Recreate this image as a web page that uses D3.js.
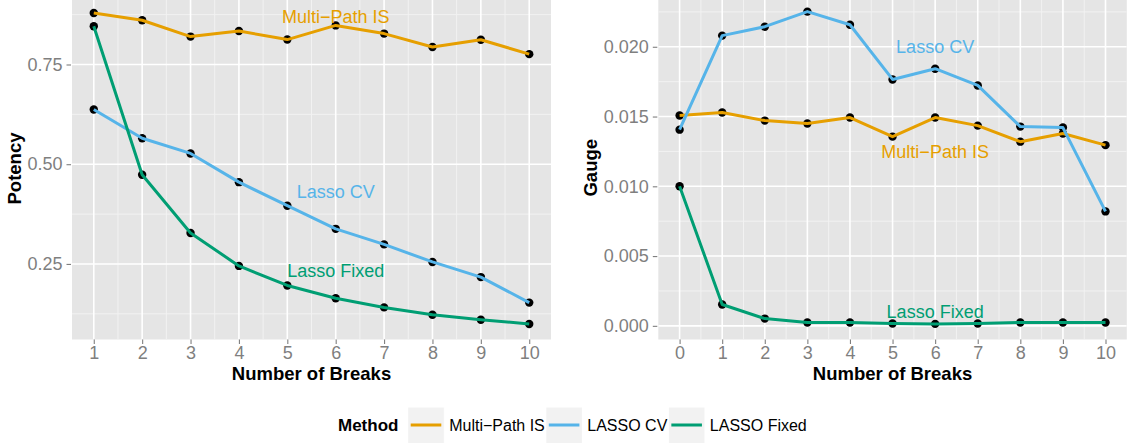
<!DOCTYPE html>
<html>
<head>
<meta charset="utf-8">
<script src="https://cdn.jsdelivr.net/npm/d3@7"></script>
<style>
  html, body { margin: 0; padding: 0; background: #ffffff; }
  svg { display: block; font-family: "Liberation Sans", Arial, Helvetica, sans-serif; }
</style>
</head>
<body>
<svg id="chart" width="1129" height="443"></svg>
<script>
// ---- data ----
const methods = ["Multi\u2212Path IS", "LASSO CV", "LASSO Fixed"];
const methodColors = ["#E69F00", "#56B4E9", "#009E73"];

const potencyBreaks = [1, 2, 3, 4, 5, 6, 7, 8, 9, 10];
const potencyMulti = [0.879, 0.861, 0.820, 0.834, 0.8125, 0.848, 0.8275, 0.794, 0.812, 0.776];
const potencyCV    = [0.637, 0.565, 0.527, 0.455, 0.396, 0.338, 0.299, 0.255, 0.217, 0.153];
const potencyFixed = [0.846, 0.4735, 0.3275, 0.245, 0.196, 0.164, 0.141, 0.1225, 0.110, 0.0995];

const gaugeBreaks = [0, 1, 2, 3, 4, 5, 6, 7, 8, 9, 10];
const gaugeMulti = [0.01507, 0.01529, 0.01471, 0.01450, 0.01493, 0.01356, 0.01493, 0.01435, 0.01320, 0.01378, 0.01295];
const gaugeCV    = [0.01406, 0.02080, 0.02144, 0.02252, 0.02158, 0.01766, 0.01843, 0.01723, 0.01428, 0.01421, 0.00820];
const gaugeFixed = [0.01000, 0.00153, 0.00052, 0.00024, 0.00024, 0.00017, 0.00014, 0.00017, 0.00024, 0.00024, 0.00024];

const potencyTicks = [0.25, 0.50, 0.75];
const gaugeTicks = [0.000, 0.005, 0.010, 0.015, 0.020];

// in-panel series labels: [text, colour index, x, y]
const potencyLabels = [["Multi\u2212Path IS", 0, 6, 0.870], ["Lasso CV", 1, 6, 0.430], ["Lasso Fixed", 2, 6, 0.233]];
const gaugeLabels = [["Lasso CV", 1, 6, 0.0200], ["Multi\u2212Path IS", 0, 6, 0.0125], ["Lasso Fixed", 2, 6, 0.0010]];

// ---- drawing ----
const svg = d3.select("#chart");
const GREY = "#7F7F7F";

function panel(opts) {
  const { left, right, top, bottom, xs, series, yTicks, yFmt, yTitle, labels, titleX } = opts;
  const xMin = d3.min(xs), xMax = d3.max(xs);
  const xPad = (xMax - xMin) * 0.05;
  const allY = series.flat();
  const yMin = d3.min(allY), yMax = d3.max(allY);
  const yPad = (yMax - yMin) * 0.05;

  const x = d3.scaleLinear().domain([xMin - xPad, xMax + xPad]).range([left, right]);
  const y = d3.scaleLinear().domain([yMin - yPad, yMax + yPad]).range([bottom, top]);

  const g = svg.append("g");
  const clipId = "clip" + Math.round(left);
  svg.append("clipPath").attr("id", clipId)
    .append("rect").attr("x", left).attr("y", top).attr("width", right - left).attr("height", bottom - top);

  g.append("rect").attr("x", left).attr("y", top).attr("width", right - left).attr("height", bottom - top)
    .attr("fill", "#E5E5E5");

  const grid = g.append("g").attr("clip-path", `url(#${clipId})`);
  const yStep = yTicks[1] - yTicks[0];
  const yMinor = [yTicks[0] - yStep / 2].concat(yTicks.map(t => t + yStep / 2));
  const xMinor = xs.slice(0, -1).map(v => v + 0.5);

  grid.selectAll(".ymin").data(yMinor).join("line")
    .attr("x1", left).attr("x2", right).attr("y1", d => y(d)).attr("y2", d => y(d))
    .attr("stroke", "#F2F2F2").attr("stroke-width", 1);
  grid.selectAll(".xmin").data(xMinor).join("line")
    .attr("y1", top).attr("y2", bottom).attr("x1", d => x(d)).attr("x2", d => x(d))
    .attr("stroke", "#F2F2F2").attr("stroke-width", 1);
  grid.selectAll(".ymaj").data(yTicks).join("line")
    .attr("x1", left).attr("x2", right).attr("y1", d => y(d)).attr("y2", d => y(d))
    .attr("stroke", "#FFFFFF").attr("stroke-width", 1.6);
  grid.selectAll(".xmaj").data(xs).join("line")
    .attr("y1", top).attr("y2", bottom).attr("x1", d => x(d)).attr("x2", d => x(d))
    .attr("stroke", "#FFFFFF").attr("stroke-width", 1.6);

  // axes
  const yAxis = d3.axisLeft(y).tickValues(yTicks).tickFormat(d3.format(yFmt)).tickSize(4.5).tickPadding(4);
  const ya = svg.append("g").attr("transform", `translate(${left - 1},0)`).call(yAxis);
  const xAxis = d3.axisBottom(x).tickValues(xs).tickFormat(d3.format("d")).tickSize(4.5).tickPadding(2);
  const xa = svg.append("g").attr("transform", `translate(0,${bottom})`).call(xAxis);
  [ya, xa].forEach(a => {
    a.select(".domain").remove();
    a.selectAll(".tick line").attr("stroke", GREY).attr("stroke-width", 1.1);
    a.selectAll(".tick text").attr("fill", GREY).style("font-size", "18px")
      .style("font-family", '"Liberation Sans", Arial, sans-serif');
  });

  // lines and points
  const plot = svg.append("g").attr("clip-path", `url(#${clipId})`);
  series.forEach((vals, i) => {
    const pts = xs.map((xv, j) => [xv, vals[j]]);
    plot.append("g").selectAll("circle").data(pts).join("circle")
      .attr("cx", d => x(d[0])).attr("cy", d => y(d[1])).attr("r", 4.2).attr("fill", "#000");
  });
  series.forEach((vals, i) => {
    const pts = xs.map((xv, j) => [xv, vals[j]]);
    plot.append("path").datum(pts)
      .attr("d", d3.line().x(d => x(d[0])).y(d => y(d[1])))
      .attr("fill", "none").attr("stroke", methodColors[i]).attr("stroke-width", 3)
      .attr("stroke-linejoin", "round");
  });

  // series labels
  plot.selectAll(".lab").data(labels).join("text")
    .attr("x", d => x(d[2])).attr("y", d => y(d[3])).attr("dy", "0.35em")
    .attr("text-anchor", "middle").attr("fill", d => methodColors[d[1]])
    .style("font-size", "18px").text(d => d[0]);

  // axis titles
  svg.append("text").attr("x", (left + right) / 2).attr("y", 380)
    .attr("text-anchor", "middle").style("font-size", "18.5px").style("font-weight", "bold")
    .text("Number of Breaks");
  svg.append("text").attr("transform", `translate(${titleX},${(top + bottom) / 2}) rotate(-90)`)
    .attr("text-anchor", "middle").style("font-size", "18.5px").style("font-weight", "bold")
    .text(yTitle);
}

panel({
  left: 72, right: 551, top: -2.5, bottom: 339.5,
  xs: potencyBreaks, series: [potencyMulti, potencyCV, potencyFixed],
  yTicks: potencyTicks, yFmt: ".2f", yTitle: "Potency", labels: potencyLabels, titleX: 20.5
});
panel({
  left: 658.3, right: 1126.8, top: -4, bottom: 339.5,
  xs: gaugeBreaks, series: [gaugeMulti, gaugeCV, gaugeFixed],
  yTicks: gaugeTicks, yFmt: ".3f", yTitle: "Gauge", labels: gaugeLabels, titleX: 597
});

// ---- legend ----
const legend = svg.append("g");
const legY = 425;
legend.append("text").attr("x", 338).attr("y", legY).attr("dy", "0.35em")
  .style("font-size", "17px").style("font-weight", "bold").text("Method");
let cx = 407.7;
methods.forEach((m, i) => {
  legend.append("rect").attr("x", cx).attr("y", 407).attr("width", 36.6).attr("height", 36.6)
    .attr("fill", "#F2F2F2").attr("stroke", "#FFFFFF").attr("stroke-width", 1);
  legend.append("line").attr("x1", cx + 3).attr("x2", cx + 33.6).attr("y1", legY).attr("y2", legY)
    .attr("stroke", methodColors[i]).attr("stroke-width", 3);
  const t = legend.append("text").attr("x", cx + 41.5).attr("y", legY).attr("dy", "0.35em")
    .style("font-size", "16px").text(m);
  cx = cx + 41.5 + t.node().getComputedTextLength() + 1;
});
</script>
</body>
</html>
